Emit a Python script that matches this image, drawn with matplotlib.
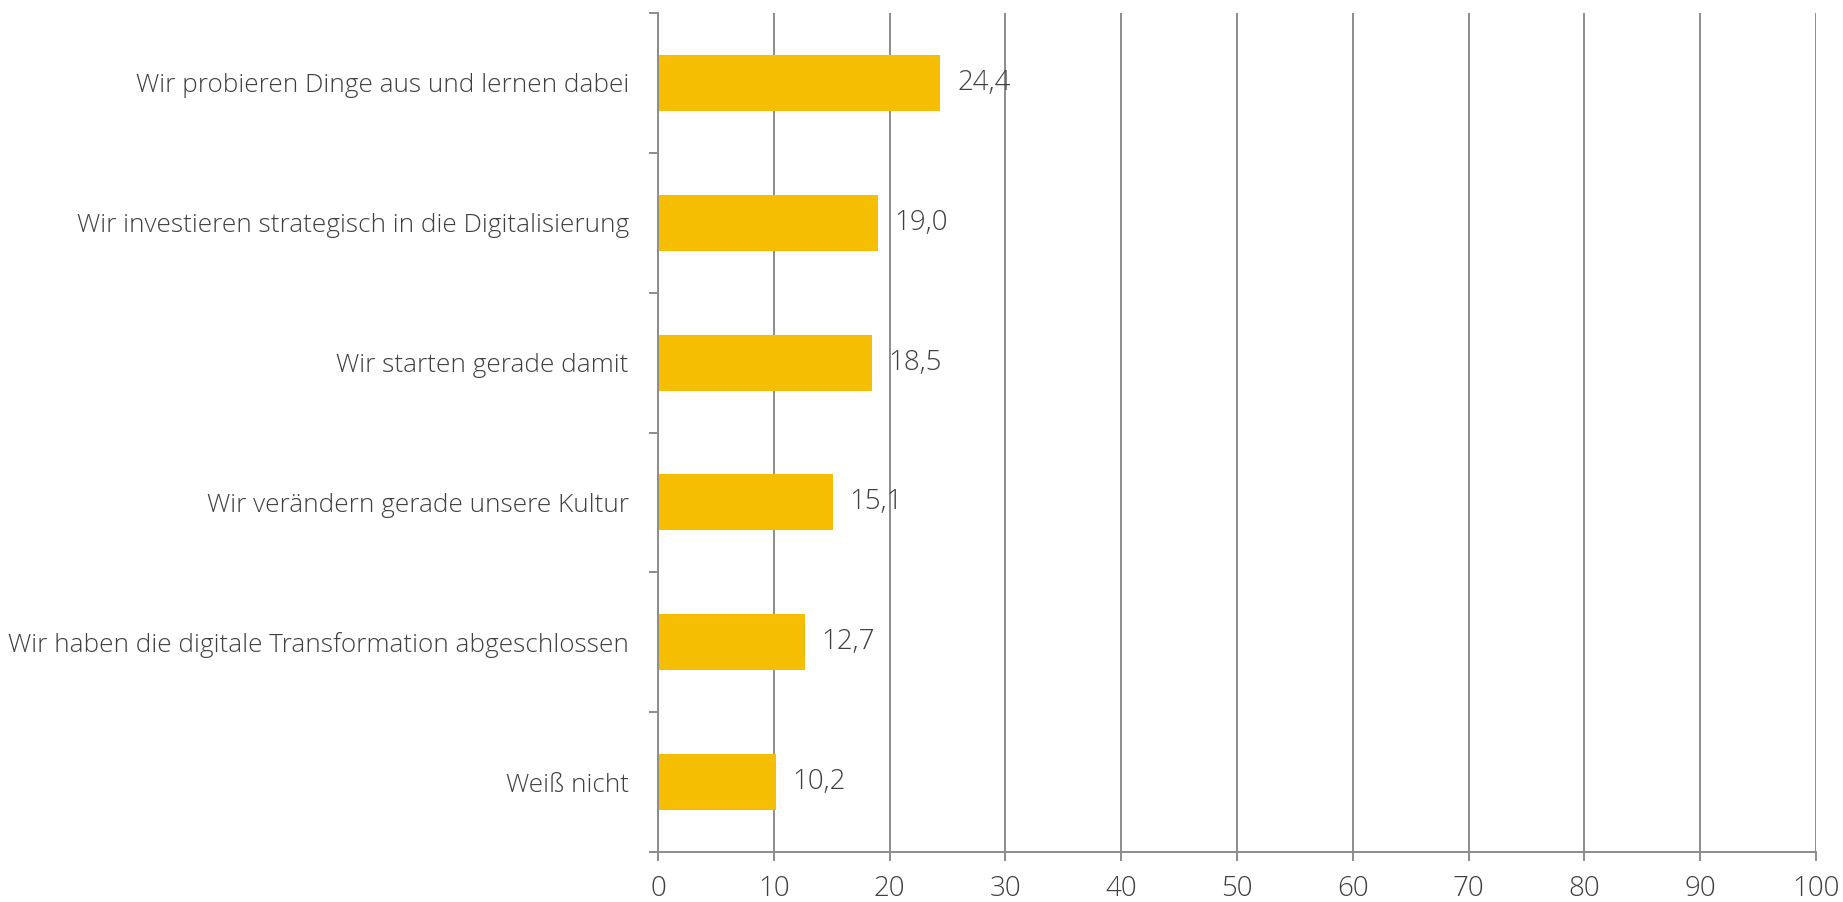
import matplotlib.pyplot as plt
import numpy as np

# Antworten und Anteile in Prozent
kategorien = [
    'Wir probieren Dinge aus und lernen dabei',
    'Wir investieren strategisch in die Digitalisierung',
    'Wir starten gerade damit',
    'Wir verändern gerade unsere Kultur',
    'Wir haben die digitale Transformation abgeschlossen',
    'Weiß nicht',
]
werte = [24.4, 19.0, 18.5, 15.1, 12.7, 10.2]
x_ticks = list(range(0, 101, 10))

GELB = '#F5BE00'
GRAU = '#8C8C8C'
TEXT = '#404040'

plt.rcParams['font.family'] = ['Open Sans', 'DejaVu Sans']

fig = plt.figure(figsize=(18.43, 9.02), dpi=100)
ax = fig.add_axes([0.357, 0.0554, 0.6283, 0.9302])

n = len(kategorien)
pos = np.arange(n)
ax.barh(pos, werte, height=0.4, color=GELB, zorder=3)

ax.set_xlim(0, 100)
ax.set_ylim(n - 0.5, -0.5)
ax.set_xticks(x_ticks)
ax.set_xticklabels([str(t) for t in x_ticks], fontsize=20, color=TEXT, fontweight='light')

# Kategorien mittig, Striche an den Grenzen
ax.set_yticks(pos)
ax.set_yticklabels(kategorien, fontsize=18.8, color=TEXT, fontweight='light')
ax.set_yticks(np.arange(-0.5, n, 1), minor=True)
ax.tick_params(axis='y', which='major', length=0, pad=21)
ax.tick_params(axis='y', which='minor', length=6.5, width=1.4, color=GRAU)
ax.tick_params(axis='x', which='major', length=6.5, width=1.4, color=GRAU, pad=10)

ax.grid(axis='x', color=GRAU, linewidth=1.4, zorder=1)
for s in ['top', 'right']:
    ax.spines[s].set_visible(False)
for s in ['left', 'bottom']:
    ax.spines[s].set_color(GRAU)
    ax.spines[s].set_linewidth(1.4)
ax.spines['left'].set_zorder(4)

for p, v in zip(pos, werte):
    ax.annotate(f'{v:.1f}'.replace('.', ','), (v, p), xytext=(12, 0),
                textcoords='offset points', va='center', ha='left',
                fontsize=20, color=TEXT, fontweight='light', zorder=5)

fig.savefig('out.png', dpi=100)
